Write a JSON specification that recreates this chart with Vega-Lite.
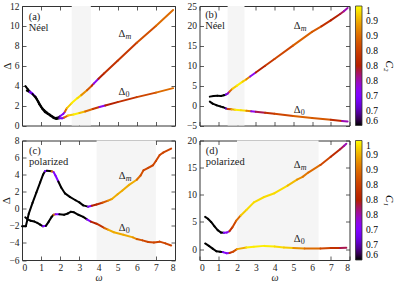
{
 "$schema": "https://vega.github.io/schema/vega-lite/v6.json",
 "padding": {"left": 0, "top": 0, "right": 0, "bottom": 0},
 "background": "white",
 "config": {
  "font": "Liberation Serif",
  "view": {"stroke": "#333", "strokeWidth": 1},
  "axis": {"domain": false, "grid": false, "tickSize": -4, "tickColor": "#333", "tickWidth": 0.8,
   "labelFont": "Liberation Serif", "labelFontSize": 9.5, "labelColor": "#222",
   "titleFont": "Liberation Serif", "titleFontWeight": "normal", "titleColor": "#222"},
  "legend": {"labelFont": "Liberation Serif", "titleFont": "Liberation Serif"},
  "text": {"font": "Liberation Serif", "color": "#222"}
 },
 "datasets": {
  "shade": [
   {"p": "a", "x1": 2.6, "x2": 3.6},
   {"p": "b", "x1": 1.5, "x2": 2.4},
   {"p": "c", "x1": 3.9, "x2": 7.0},
   {"p": "d", "x1": 2.0, "x2": 6.35}
  ],
  "labels": [
   {"p": "a", "x": 0.35, "y": 10.9, "t": "(a)"},
   {"p": "a", "x": 0.35, "y": 9.8, "t": "Néel"},
   {"p": "a", "x": 5.05, "y": 9.2, "t": "Δ", "s": "m"},
   {"p": "a", "x": 5.05, "y": 3.4, "t": "Δ", "s": "0"},
   {"p": "b", "x": 0.3, "y": 22.8, "t": "(b)"},
   {"p": "b", "x": 0.3, "y": 20.1, "t": "Néel"},
   {"p": "b", "x": 5.02, "y": 19.9, "t": "Δ", "s": "m"},
   {"p": "b", "x": 5.02, "y": -1.1, "t": "Δ", "s": "0"},
   {"p": "c", "x": 0.37, "y": 6.76, "t": "(c)"},
   {"p": "c", "x": 0.37, "y": 5.5, "t": "polarized"},
   {"p": "c", "x": 5.06, "y": 3.83, "t": "Δ", "s": "m"},
   {"p": "c", "x": 5.06, "y": -2.2, "t": "Δ", "s": "0"},
   {"p": "d", "x": 0.33, "y": 18.0, "t": "(d)"},
   {"p": "d", "x": 0.33, "y": 16.1, "t": "polarized"},
   {"p": "d", "x": 5.03, "y": 15.4, "t": "Δ", "s": "m"},
   {"p": "d", "x": 5.03, "y": 1.95, "t": "Δ", "s": "0"}
  ],
  "curves": [
   {"p":"a","k":"a1","x":0.18,"y":3.95,"c":0.6},{"p":"a","k":"a1","x":0.3,"y":3.65,"c":0.6},{"p":"a","k":"a1","x":0.42,"y":3.4,"c":0.7},{"p":"a","k":"a1","x":0.55,"y":3.2,"c":0.7},{"p":"a","k":"a1","x":0.7,"y":2.9,"c":0.6},{"p":"a","k":"a1","x":0.85,"y":2.4,"c":0.6},{"p":"a","k":"a1","x":1.0,"y":1.9,"c":0.6},{"p":"a","k":"a1","x":1.15,"y":1.55,"c":0.6},{"p":"a","k":"a1","x":1.3,"y":1.3,"c":0.6},{"p":"a","k":"a1","x":1.45,"y":1.1,"c":0.6},{"p":"a","k":"a1","x":1.6,"y":0.9,"c":0.6},{"p":"a","k":"a1","x":1.75,"y":0.75,"c":0.6},{"p":"a","k":"a1","x":1.9,"y":0.8,"c":0.62},{"p":"a","k":"a1","x":2.0,"y":0.95,"c":0.7},{"p":"a","k":"a1","x":2.15,"y":1.15,"c":0.72},{"p":"a","k":"a1","x":2.25,"y":1.4,"c":0.9},{"p":"a","k":"a1","x":2.35,"y":1.75,"c":0.97},{"p":"a","k":"a1","x":2.6,"y":2.25,"c":0.99},{"p":"a","k":"a1","x":2.9,"y":2.75,"c":0.98},{"p":"a","k":"a1","x":3.1,"y":3.05,"c":0.93},{"p":"a","k":"a1","x":3.4,"y":3.55,"c":0.88},{"p":"a","k":"a1","x":3.65,"y":4.0,"c":0.82},{"p":"a","k":"a1","x":3.75,"y":4.2,"c":0.72},{"p":"a","k":"a1","x":4.0,"y":4.7,"c":0.8},{"p":"a","k":"a1","x":4.3,"y":5.25,"c":0.83},{"p":"a","k":"a1","x":5.0,"y":6.5,"c":0.84},{"p":"a","k":"a1","x":6.0,"y":8.3,"c":0.87},{"p":"a","k":"a1","x":7.0,"y":10.0,"c":0.9},{"p":"a","k":"a1","x":7.9,"y":11.6,"c":0.9},
   {"p":"a","k":"a2","x":0.25,"y":3.5,"c":0.6},{"p":"a","k":"a2","x":0.4,"y":3.35,"c":0.68},{"p":"a","k":"a2","x":0.55,"y":3.15,"c":0.6},{"p":"a","k":"a2","x":0.75,"y":2.7,"c":0.6},{"p":"a","k":"a2","x":0.9,"y":2.15,"c":0.6},{"p":"a","k":"a2","x":1.05,"y":1.7,"c":0.6},{"p":"a","k":"a2","x":1.2,"y":1.35,"c":0.6},{"p":"a","k":"a2","x":1.35,"y":1.15,"c":0.6},{"p":"a","k":"a2","x":1.5,"y":0.95,"c":0.6},{"p":"a","k":"a2","x":1.65,"y":0.75,"c":0.6},{"p":"a","k":"a2","x":1.8,"y":0.65,"c":0.6},{"p":"a","k":"a2","x":1.95,"y":0.72,"c":0.68},{"p":"a","k":"a2","x":2.1,"y":0.72,"c":0.72},{"p":"a","k":"a2","x":2.2,"y":0.8,"c":0.9},{"p":"a","k":"a2","x":2.4,"y":1.0,"c":0.97},{"p":"a","k":"a2","x":2.7,"y":1.1,"c":0.99},{"p":"a","k":"a2","x":3.0,"y":1.25,"c":0.96},{"p":"a","k":"a2","x":3.3,"y":1.4,"c":0.9},{"p":"a","k":"a2","x":3.7,"y":1.65,"c":0.84},{"p":"a","k":"a2","x":4.05,"y":1.85,"c":0.72},{"p":"a","k":"a2","x":4.35,"y":2.0,"c":0.8},{"p":"a","k":"a2","x":5.0,"y":2.35,"c":0.83},{"p":"a","k":"a2","x":6.0,"y":2.85,"c":0.86},{"p":"a","k":"a2","x":7.0,"y":3.3,"c":0.9},{"p":"a","k":"a2","x":7.9,"y":3.75,"c":0.9},
   {"p":"b","k":"bm","x":0.55,"y":2.25,"c":0.6},{"p":"b","k":"bm","x":0.75,"y":2.4,"c":0.6},{"p":"b","k":"bm","x":0.95,"y":2.45,"c":0.6},{"p":"b","k":"bm","x":1.15,"y":2.4,"c":0.6},{"p":"b","k":"bm","x":1.3,"y":2.6,"c":0.6},{"p":"b","k":"bm","x":1.4,"y":2.75,"c":0.68},{"p":"b","k":"bm","x":1.5,"y":3.0,"c":0.75},{"p":"b","k":"bm","x":1.6,"y":3.5,"c":0.9},{"p":"b","k":"bm","x":1.75,"y":4.2,"c":0.97},{"p":"b","k":"bm","x":2.0,"y":5.0,"c":0.99},{"p":"b","k":"bm","x":2.3,"y":6.0,"c":0.97},{"p":"b","k":"bm","x":2.5,"y":6.6,"c":0.92},{"p":"b","k":"bm","x":2.7,"y":7.3,"c":0.72},{"p":"b","k":"bm","x":3.0,"y":8.3,"c":0.8},{"p":"b","k":"bm","x":3.5,"y":10.0,"c":0.84},{"p":"b","k":"bm","x":4.0,"y":11.7,"c":0.86},{"p":"b","k":"bm","x":5.0,"y":15.1,"c":0.89},{"p":"b","k":"bm","x":6.0,"y":18.5,"c":0.88},{"p":"b","k":"bm","x":6.5,"y":19.9,"c":0.83},{"p":"b","k":"bm","x":7.0,"y":21.4,"c":0.8},{"p":"b","k":"bm","x":7.5,"y":23.0,"c":0.78},{"p":"b","k":"bm","x":7.7,"y":23.7,"c":0.75},{"p":"b","k":"bm","x":7.9,"y":24.5,"c":0.75},
   {"p":"b","k":"b0","x":0.55,"y":1.0,"c":0.6},{"p":"b","k":"b0","x":0.7,"y":0.5,"c":0.6},{"p":"b","k":"b0","x":0.9,"y":0.1,"c":0.6},{"p":"b","k":"b0","x":1.1,"y":-0.2,"c":0.6},{"p":"b","k":"b0","x":1.25,"y":-0.4,"c":0.6},{"p":"b","k":"b0","x":1.4,"y":-0.7,"c":0.65},{"p":"b","k":"b0","x":1.5,"y":-0.85,"c":0.85},{"p":"b","k":"b0","x":1.7,"y":-0.95,"c":0.95},{"p":"b","k":"b0","x":1.9,"y":-1.05,"c":0.99},{"p":"b","k":"b0","x":2.2,"y":-1.15,"c":0.98},{"p":"b","k":"b0","x":2.5,"y":-1.3,"c":0.92},{"p":"b","k":"b0","x":2.75,"y":-1.45,"c":0.72},{"p":"b","k":"b0","x":3.0,"y":-1.55,"c":0.78},{"p":"b","k":"b0","x":3.5,"y":-1.8,"c":0.83},{"p":"b","k":"b0","x":4.0,"y":-2.05,"c":0.86},{"p":"b","k":"b0","x":5.0,"y":-2.6,"c":0.89},{"p":"b","k":"b0","x":6.0,"y":-3.1,"c":0.88},{"p":"b","k":"b0","x":7.0,"y":-3.55,"c":0.82},{"p":"b","k":"b0","x":7.6,"y":-3.85,"c":0.75},{"p":"b","k":"b0","x":7.9,"y":-4.0,"c":0.75},
   {"p":"c","k":"cm","x":0.0,"y":-2.05,"c":0.6},{"p":"c","k":"cm","x":0.2,"y":-2.05,"c":0.6},{"p":"c","k":"cm","x":0.35,"y":-0.6,"c":0.6},{"p":"c","k":"cm","x":0.55,"y":0.7,"c":0.6},{"p":"c","k":"cm","x":0.75,"y":1.9,"c":0.6},{"p":"c","k":"cm","x":0.95,"y":3.1,"c":0.6},{"p":"c","k":"cm","x":1.1,"y":4.0,"c":0.6},{"p":"c","k":"cm","x":1.2,"y":4.4,"c":0.7},{"p":"c","k":"cm","x":1.3,"y":4.45,"c":0.6},{"p":"c","k":"cm","x":1.55,"y":4.4,"c":0.9},{"p":"c","k":"cm","x":1.65,"y":4.3,"c":0.7},{"p":"c","k":"cm","x":1.75,"y":3.9,"c":0.7},{"p":"c","k":"cm","x":1.9,"y":3.2,"c":0.6},{"p":"c","k":"cm","x":2.05,"y":2.5,"c":0.6},{"p":"c","k":"cm","x":2.25,"y":1.8,"c":0.6},{"p":"c","k":"cm","x":2.5,"y":1.4,"c":0.6},{"p":"c","k":"cm","x":2.8,"y":1.0,"c":0.6},{"p":"c","k":"cm","x":3.0,"y":0.75,"c":0.6},{"p":"c","k":"cm","x":3.2,"y":0.4,"c":0.6},{"p":"c","k":"cm","x":3.45,"y":0.25,"c":0.7},{"p":"c","k":"cm","x":3.65,"y":0.35,"c":0.8},{"p":"c","k":"cm","x":3.9,"y":0.5,"c":0.82},{"p":"c","k":"cm","x":4.2,"y":0.7,"c":0.88},{"p":"c","k":"cm","x":4.5,"y":0.95,"c":0.93},{"p":"c","k":"cm","x":4.7,"y":1.15,"c":0.95},{"p":"c","k":"cm","x":5.0,"y":1.7,"c":0.95},{"p":"c","k":"cm","x":5.25,"y":2.15,"c":0.95},{"p":"c","k":"cm","x":5.6,"y":2.8,"c":0.95},{"p":"c","k":"cm","x":6.0,"y":3.4,"c":0.9},{"p":"c","k":"cm","x":6.2,"y":3.9,"c":0.87},{"p":"c","k":"cm","x":6.35,"y":4.5,"c":0.86},{"p":"c","k":"cm","x":6.6,"y":4.8,"c":0.86},{"p":"c","k":"cm","x":6.85,"y":5.1,"c":0.86},{"p":"c","k":"cm","x":7.0,"y":5.6,"c":0.86},{"p":"c","k":"cm","x":7.2,"y":6.3,"c":0.86},{"p":"c","k":"cm","x":7.4,"y":6.6,"c":0.86},{"p":"c","k":"cm","x":7.8,"y":7.05,"c":0.86},
   {"p":"c","k":"c0","x":0.17,"y":-1.0,"c":0.6},{"p":"c","k":"c0","x":0.3,"y":-1.25,"c":0.6},{"p":"c","k":"c0","x":0.45,"y":-1.4,"c":0.6},{"p":"c","k":"c0","x":0.65,"y":-1.5,"c":0.6},{"p":"c","k":"c0","x":0.8,"y":-1.65,"c":0.6},{"p":"c","k":"c0","x":0.95,"y":-1.85,"c":0.6},{"p":"c","k":"c0","x":1.1,"y":-2.05,"c":0.7},{"p":"c","k":"c0","x":1.25,"y":-2.0,"c":0.6},{"p":"c","k":"c0","x":1.4,"y":-1.5,"c":0.6},{"p":"c","k":"c0","x":1.55,"y":-0.95,"c":0.6},{"p":"c","k":"c0","x":1.65,"y":-0.7,"c":0.9},{"p":"c","k":"c0","x":1.75,"y":-0.65,"c":0.7},{"p":"c","k":"c0","x":1.95,"y":-0.65,"c":0.6},{"p":"c","k":"c0","x":2.2,"y":-0.7,"c":0.6},{"p":"c","k":"c0","x":2.4,"y":-0.55,"c":0.6},{"p":"c","k":"c0","x":2.55,"y":-0.35,"c":0.6},{"p":"c","k":"c0","x":2.7,"y":-0.4,"c":0.6},{"p":"c","k":"c0","x":2.95,"y":-0.7,"c":0.6},{"p":"c","k":"c0","x":3.2,"y":-0.95,"c":0.6},{"p":"c","k":"c0","x":3.4,"y":-1.25,"c":0.7},{"p":"c","k":"c0","x":3.6,"y":-1.5,"c":0.8},{"p":"c","k":"c0","x":3.9,"y":-1.75,"c":0.83},{"p":"c","k":"c0","x":4.3,"y":-2.25,"c":0.9},{"p":"c","k":"c0","x":4.5,"y":-2.45,"c":0.95},{"p":"c","k":"c0","x":4.8,"y":-2.75,"c":0.95},{"p":"c","k":"c0","x":5.3,"y":-3.05,"c":0.95},{"p":"c","k":"c0","x":5.8,"y":-3.35,"c":0.93},{"p":"c","k":"c0","x":6.0,"y":-3.55,"c":0.88},{"p":"c","k":"c0","x":6.3,"y":-3.7,"c":0.86},{"p":"c","k":"c0","x":6.6,"y":-3.9,"c":0.86},{"p":"c","k":"c0","x":6.9,"y":-3.95,"c":0.86},{"p":"c","k":"c0","x":7.2,"y":-3.85,"c":0.86},{"p":"c","k":"c0","x":7.5,"y":-4.05,"c":0.86},{"p":"c","k":"c0","x":7.8,"y":-4.3,"c":0.86},
   {"p":"d","k":"dm","x":0.3,"y":5.95,"c":0.6},{"p":"d","k":"dm","x":0.45,"y":5.6,"c":0.6},{"p":"d","k":"dm","x":0.62,"y":5.0,"c":0.6},{"p":"d","k":"dm","x":0.8,"y":4.2,"c":0.6},{"p":"d","k":"dm","x":0.97,"y":3.5,"c":0.6},{"p":"d","k":"dm","x":1.15,"y":3.05,"c":0.6},{"p":"d","k":"dm","x":1.3,"y":3.0,"c":0.7},{"p":"d","k":"dm","x":1.45,"y":3.05,"c":0.72},{"p":"d","k":"dm","x":1.6,"y":3.3,"c":0.83},{"p":"d","k":"dm","x":1.75,"y":4.0,"c":0.86},{"p":"d","k":"dm","x":1.95,"y":5.2,"c":0.9},{"p":"d","k":"dm","x":2.2,"y":6.2,"c":0.97},{"p":"d","k":"dm","x":2.5,"y":7.2,"c":0.98},{"p":"d","k":"dm","x":2.9,"y":8.6,"c":0.98},{"p":"d","k":"dm","x":3.45,"y":9.6,"c":0.98},{"p":"d","k":"dm","x":4.0,"y":10.3,"c":0.98},{"p":"d","k":"dm","x":4.7,"y":11.7,"c":0.96},{"p":"d","k":"dm","x":5.2,"y":12.8,"c":0.93},{"p":"d","k":"dm","x":5.5,"y":13.3,"c":0.91},{"p":"d","k":"dm","x":5.8,"y":14.1,"c":0.9},{"p":"d","k":"dm","x":6.45,"y":15.5,"c":0.86},{"p":"d","k":"dm","x":7.0,"y":17.0,"c":0.82},{"p":"d","k":"dm","x":7.5,"y":18.4,"c":0.78},{"p":"d","k":"dm","x":7.7,"y":19.0,"c":0.75},{"p":"d","k":"dm","x":7.83,"y":19.4,"c":0.75},
   {"p":"d","k":"d0","x":0.3,"y":1.05,"c":0.6},{"p":"d","k":"d0","x":0.5,"y":0.6,"c":0.6},{"p":"d","k":"d0","x":0.7,"y":0.1,"c":0.6},{"p":"d","k":"d0","x":0.9,"y":-0.4,"c":0.6},{"p":"d","k":"d0","x":1.1,"y":-0.5,"c":0.6},{"p":"d","k":"d0","x":1.25,"y":-0.55,"c":0.7},{"p":"d","k":"d0","x":1.45,"y":-0.75,"c":0.72},{"p":"d","k":"d0","x":1.6,"y":-0.7,"c":0.84},{"p":"d","k":"d0","x":1.8,"y":-0.45,"c":0.87},{"p":"d","k":"d0","x":2.0,"y":0.0,"c":0.95},{"p":"d","k":"d0","x":2.5,"y":0.3,"c":0.99},{"p":"d","k":"d0","x":2.9,"y":0.45,"c":0.99},{"p":"d","k":"d0","x":3.45,"y":0.6,"c":0.99},{"p":"d","k":"d0","x":4.0,"y":0.5,"c":0.98},{"p":"d","k":"d0","x":4.5,"y":0.3,"c":0.97},{"p":"d","k":"d0","x":5.0,"y":0.2,"c":0.93},{"p":"d","k":"d0","x":5.6,"y":0.12,"c":0.9},{"p":"d","k":"d0","x":6.45,"y":0.12,"c":0.86},{"p":"d","k":"d0","x":7.0,"y":0.2,"c":0.83},{"p":"d","k":"d0","x":7.5,"y":0.22,"c":0.78},{"p":"d","k":"d0","x":7.83,"y":0.25,"c":0.78}
  ]
 },
 "columns": 2,
 "bounds": "flush",
 "spacing": {"row": 14.5, "column": 24.5},
 "resolve": {"scale": {"color": "independent"}},
 "concat": [
  {
   "width": 153, "height": 119.5,
   "layer": [
    {"data": {"name": "shade"}, "transform": [{"filter": "datum.p == 'a'"}],
     "mark": {"type": "rect", "color": "#f5f5f5"},
     "encoding": {"x": {"field": "x1", "type": "quantitative", "scale": {"domain": [0, 8], "nice": false, "zero": false}, "axis": null}, "x2": {"field": "x2"}}},
    {"data": {"name": "curves"}, "transform": [{"filter": "datum.p == 'a'"}, {"window": [{"op": "lead", "field": "x", "as": "nx"}, {"op": "lead", "field": "y", "as": "ny"}], "groupby": ["k"], "sort": [{"field": "x"}]}, {"filter": "datum.nx != null"}],
     "mark": {"type": "rule", "strokeWidth": 2, "strokeCap": "round"},
     "encoding": {
      "x": {"field": "x", "type": "quantitative", "scale": {"domain": [0, 8], "nice": false, "zero": false}, "axis": {"values": [0,1,2,3,4,5,6,7,8], "labels": false, "title": null}},
      "y": {"field": "y", "type": "quantitative", "scale": {"domain": [0, 12], "nice": false, "zero": false}, "axis": {"values": [0,2,4,6,8,10,12], "title": "Δ", "titleFontSize": 11, "labelPadding": 7, "titlePadding": -3}},
      "x2": {"field": "nx"}, "y2": {"field": "ny"},
      "color": {"field": "c", "type": "quantitative", "scale": {"domain": [0.6,0.625,0.65,0.675,0.7,0.725,0.75,0.775,0.8,0.825,0.85,0.875,0.9,0.925,0.95,0.975,1], "range": ["#000000","#400062","#5a00b4","#6e02eb","#8004ff","#8e08eb","#9c0db4","#a81562","#b42000","#bf2d00","#ca3e00","#d35300","#dd6b00","#e68900","#eeab00","#f7d200","#ffff00"], "interpolate": "rgb"}, "legend": null}}},
    {"data": {"name": "labels"}, "transform": [{"filter": "datum.p == 'a'"}],
     "mark": {"type": "text", "align": "left", "baseline": "middle", "fontSize": 10.5},
     "encoding": {
      "x": {"field": "x", "type": "quantitative", "scale": {"domain": [0, 8], "nice": false, "zero": false}, "axis": {"orient": "top", "values": [0,1,2,3,4,5,6,7,8], "labels": false, "title": null}},
      "y": {"field": "y", "type": "quantitative", "scale": {"domain": [0, 12], "nice": false, "zero": false}, "axis": {"orient": "right", "values": [0,2,4,6,8,10,12], "labels": false, "title": null}},
      "text": {"field": "t"}}},
    {"data": {"name": "labels"}, "transform": [{"filter": "datum.p == 'a' && datum.s == 'm'"}],
     "mark": {"type": "text", "align": "left", "baseline": "middle", "fontSize": 8, "fontStyle": "italic", "dx": 7, "dy": 3},
     "encoding": {"x": {"field": "x", "type": "quantitative", "axis": null}, "y": {"field": "y", "type": "quantitative", "axis": null}, "text": {"field": "s"}}},
    {"data": {"name": "labels"}, "transform": [{"filter": "datum.p == 'a' && datum.s == '0'"}],
     "mark": {"type": "text", "align": "left", "baseline": "middle", "fontSize": 8, "dx": 7, "dy": 3},
     "encoding": {"x": {"field": "x", "type": "quantitative", "axis": null}, "y": {"field": "y", "type": "quantitative", "axis": null}, "text": {"field": "s"}}}
   ],
   "resolve": {"axis": {"x": "independent", "y": "independent"}}
  },
  {
   "width": 150, "height": 119.5,
   "layer": [
    {"data": {"name": "shade"}, "transform": [{"filter": "datum.p == 'b'"}],
     "mark": {"type": "rect", "color": "#f5f5f5"},
     "encoding": {"x": {"field": "x1", "type": "quantitative", "scale": {"domain": [0, 8], "nice": false, "zero": false}, "axis": null}, "x2": {"field": "x2"}}},
    {"data": {"name": "curves"}, "transform": [{"filter": "datum.p == 'b'"}, {"window": [{"op": "lead", "field": "x", "as": "nx"}, {"op": "lead", "field": "y", "as": "ny"}], "groupby": ["k"], "sort": [{"field": "x"}]}, {"filter": "datum.nx != null"}],
     "mark": {"type": "rule", "strokeWidth": 2, "strokeCap": "round"},
     "encoding": {
      "x": {"field": "x", "type": "quantitative", "scale": {"domain": [0, 8], "nice": false, "zero": false}, "axis": {"values": [0,1,2,3,4,5,6,7,8], "labels": false, "title": null}},
      "y": {"field": "y", "type": "quantitative", "scale": {"domain": [-5, 25], "nice": false, "zero": false}, "axis": {"values": [-5,0,5,10,15,20,25], "title": null, "labelPadding": 7}},
      "x2": {"field": "nx"}, "y2": {"field": "ny"},
      "color": {"field": "c", "type": "quantitative", "scale": {"domain": [0.6,0.625,0.65,0.675,0.7,0.725,0.75,0.775,0.8,0.825,0.85,0.875,0.9,0.925,0.95,0.975,1], "range": ["#000000","#400062","#5a00b4","#6e02eb","#8004ff","#8e08eb","#9c0db4","#a81562","#b42000","#bf2d00","#ca3e00","#d35300","#dd6b00","#e68900","#eeab00","#f7d200","#ffff00"], "interpolate": "rgb"},
       "legend": {"title": "C₂", "titleOrient": "right", "titleFontSize": 11, "titleFontStyle": "italic", "titleFontWeight": "normal", "titlePadding": 6, "gradientLength": 119.5, "gradientThickness": 6.5, "offset": 5, "values": [0.6,0.65,0.7,0.75,0.8,0.85,0.9,0.95,1], "format": "~g", "labelOverlap": false, "labelFontSize": 9.5, "labelOffset": 4, "labelBaseline": "middle", "gradientStrokeColor": "#333", "gradientStrokeWidth": 0.8}}}},
    {"data": {"name": "labels"}, "transform": [{"filter": "datum.p == 'b'"}],
     "mark": {"type": "text", "align": "left", "baseline": "middle", "fontSize": 10.5},
     "encoding": {
      "x": {"field": "x", "type": "quantitative", "scale": {"domain": [0, 8], "nice": false, "zero": false}, "axis": {"orient": "top", "values": [0,1,2,3,4,5,6,7,8], "labels": false, "title": null}},
      "y": {"field": "y", "type": "quantitative", "scale": {"domain": [-5, 25], "nice": false, "zero": false}, "axis": {"orient": "right", "values": [-5,0,5,10,15,20,25], "labels": false, "title": null}},
      "text": {"field": "t"}}},
    {"data": {"name": "labels"}, "transform": [{"filter": "datum.p == 'b' && datum.s == 'm'"}],
     "mark": {"type": "text", "align": "left", "baseline": "middle", "fontSize": 8, "fontStyle": "italic", "dx": 7, "dy": 3},
     "encoding": {"x": {"field": "x", "type": "quantitative", "axis": null}, "y": {"field": "y", "type": "quantitative", "axis": null}, "text": {"field": "s"}}},
    {"data": {"name": "labels"}, "transform": [{"filter": "datum.p == 'b' && datum.s == '0'"}],
     "mark": {"type": "text", "align": "left", "baseline": "middle", "fontSize": 8, "dx": 7, "dy": 3},
     "encoding": {"x": {"field": "x", "type": "quantitative", "axis": null}, "y": {"field": "y", "type": "quantitative", "axis": null}, "text": {"field": "s"}}}
   ],
   "resolve": {"axis": {"x": "independent", "y": "independent"}}
  },
  {
   "width": 153, "height": 119.5,
   "layer": [
    {"data": {"name": "shade"}, "transform": [{"filter": "datum.p == 'c'"}],
     "mark": {"type": "rect", "color": "#f5f5f5"},
     "encoding": {"x": {"field": "x1", "type": "quantitative", "scale": {"domain": [0, 8], "nice": false, "zero": false}, "axis": null}, "x2": {"field": "x2"}}},
    {"data": {"name": "curves"}, "transform": [{"filter": "datum.p == 'c'"}, {"window": [{"op": "lead", "field": "x", "as": "nx"}, {"op": "lead", "field": "y", "as": "ny"}], "groupby": ["k"], "sort": [{"field": "x"}]}, {"filter": "datum.nx != null"}],
     "mark": {"type": "rule", "strokeWidth": 2, "strokeCap": "round"},
     "encoding": {
      "x": {"field": "x", "type": "quantitative", "scale": {"domain": [0, 8], "nice": false, "zero": false}, "axis": {"values": [0,1,2,3,4,5,6,7,8], "title": "ω", "titleFontSize": 10, "titleFontStyle": "italic", "labelPadding": 6.5, "titlePadding": 0}},
      "y": {"field": "y", "type": "quantitative", "scale": {"domain": [-6, 8], "nice": false, "zero": false}, "axis": {"values": [-6,-4,-2,0,2,4,6,8], "title": "Δ", "titleFontSize": 11, "labelPadding": 7, "titlePadding": -3}},
      "x2": {"field": "nx"}, "y2": {"field": "ny"},
      "color": {"field": "c", "type": "quantitative", "scale": {"domain": [0.6,0.625,0.65,0.675,0.7,0.725,0.75,0.775,0.8,0.825,0.85,0.875,0.9,0.925,0.95,0.975,1], "range": ["#000000","#400062","#5a00b4","#6e02eb","#8004ff","#8e08eb","#9c0db4","#a81562","#b42000","#bf2d00","#ca3e00","#d35300","#dd6b00","#e68900","#eeab00","#f7d200","#ffff00"], "interpolate": "rgb"}, "legend": null}}},
    {"data": {"name": "labels"}, "transform": [{"filter": "datum.p == 'c'"}],
     "mark": {"type": "text", "align": "left", "baseline": "middle", "fontSize": 10.5},
     "encoding": {
      "x": {"field": "x", "type": "quantitative", "scale": {"domain": [0, 8], "nice": false, "zero": false}, "axis": {"orient": "top", "values": [0,1,2,3,4,5,6,7,8], "labels": false, "title": null}},
      "y": {"field": "y", "type": "quantitative", "scale": {"domain": [-6, 8], "nice": false, "zero": false}, "axis": {"orient": "right", "values": [-6,-4,-2,0,2,4,6,8], "labels": false, "title": null}},
      "text": {"field": "t"}}},
    {"data": {"name": "labels"}, "transform": [{"filter": "datum.p == 'c' && datum.s == 'm'"}],
     "mark": {"type": "text", "align": "left", "baseline": "middle", "fontSize": 8, "fontStyle": "italic", "dx": 7, "dy": 3},
     "encoding": {"x": {"field": "x", "type": "quantitative", "axis": null}, "y": {"field": "y", "type": "quantitative", "axis": null}, "text": {"field": "s"}}},
    {"data": {"name": "labels"}, "transform": [{"filter": "datum.p == 'c' && datum.s == '0'"}],
     "mark": {"type": "text", "align": "left", "baseline": "middle", "fontSize": 8, "dx": 7, "dy": 3},
     "encoding": {"x": {"field": "x", "type": "quantitative", "axis": null}, "y": {"field": "y", "type": "quantitative", "axis": null}, "text": {"field": "s"}}}
   ],
   "resolve": {"axis": {"x": "independent", "y": "independent"}}
  },
  {
   "width": 150, "height": 119.5,
   "layer": [
    {"data": {"name": "shade"}, "transform": [{"filter": "datum.p == 'd'"}],
     "mark": {"type": "rect", "color": "#f5f5f5"},
     "encoding": {"x": {"field": "x1", "type": "quantitative", "scale": {"domain": [0, 8], "nice": false, "zero": false}, "axis": null}, "x2": {"field": "x2"}}},
    {"data": {"name": "curves"}, "transform": [{"filter": "datum.p == 'd'"}, {"window": [{"op": "lead", "field": "x", "as": "nx"}, {"op": "lead", "field": "y", "as": "ny"}], "groupby": ["k"], "sort": [{"field": "x"}]}, {"filter": "datum.nx != null"}],
     "mark": {"type": "rule", "strokeWidth": 2, "strokeCap": "round"},
     "encoding": {
      "x": {"field": "x", "type": "quantitative", "scale": {"domain": [0, 8], "nice": false, "zero": false}, "axis": {"values": [0,1,2,3,4,5,6,7,8], "title": "ω", "titleFontSize": 10, "titleFontStyle": "italic", "labelPadding": 6.5, "titlePadding": 0}},
      "y": {"field": "y", "type": "quantitative", "scale": {"domain": [-2, 20], "nice": false, "zero": false}, "axis": {"values": [0,5,10,15,20], "title": null, "labelPadding": 7}},
      "x2": {"field": "nx"}, "y2": {"field": "ny"},
      "color": {"field": "c", "type": "quantitative", "scale": {"domain": [0.6,0.625,0.65,0.675,0.7,0.725,0.75,0.775,0.8,0.825,0.85,0.875,0.9,0.925,0.95,0.975,1], "range": ["#000000","#400062","#5a00b4","#6e02eb","#8004ff","#8e08eb","#9c0db4","#a81562","#b42000","#bf2d00","#ca3e00","#d35300","#dd6b00","#e68900","#eeab00","#f7d200","#ffff00"], "interpolate": "rgb"},
       "legend": {"title": "C₁", "titleOrient": "right", "titleFontSize": 11, "titleFontStyle": "italic", "titleFontWeight": "normal", "titlePadding": 6, "gradientLength": 119.5, "gradientThickness": 6.5, "offset": 5, "values": [0.6,0.65,0.7,0.75,0.8,0.85,0.9,0.95,1], "format": "~g", "labelOverlap": false, "labelFontSize": 9.5, "labelOffset": 4, "labelBaseline": "middle", "gradientStrokeColor": "#333", "gradientStrokeWidth": 0.8}}}},
    {"data": {"name": "labels"}, "transform": [{"filter": "datum.p == 'd'"}],
     "mark": {"type": "text", "align": "left", "baseline": "middle", "fontSize": 10.5},
     "encoding": {
      "x": {"field": "x", "type": "quantitative", "scale": {"domain": [0, 8], "nice": false, "zero": false}, "axis": {"orient": "top", "values": [0,1,2,3,4,5,6,7,8], "labels": false, "title": null}},
      "y": {"field": "y", "type": "quantitative", "scale": {"domain": [-2, 20], "nice": false, "zero": false}, "axis": {"orient": "right", "values": [0,5,10,15,20], "labels": false, "title": null}},
      "text": {"field": "t"}}},
    {"data": {"name": "labels"}, "transform": [{"filter": "datum.p == 'd' && datum.s == 'm'"}],
     "mark": {"type": "text", "align": "left", "baseline": "middle", "fontSize": 8, "fontStyle": "italic", "dx": 7, "dy": 3},
     "encoding": {"x": {"field": "x", "type": "quantitative", "axis": null}, "y": {"field": "y", "type": "quantitative", "axis": null}, "text": {"field": "s"}}},
    {"data": {"name": "labels"}, "transform": [{"filter": "datum.p == 'd' && datum.s == '0'"}],
     "mark": {"type": "text", "align": "left", "baseline": "middle", "fontSize": 8, "dx": 7, "dy": 3},
     "encoding": {"x": {"field": "x", "type": "quantitative", "axis": null}, "y": {"field": "y", "type": "quantitative", "axis": null}, "text": {"field": "s"}}}
   ],
   "resolve": {"axis": {"x": "independent", "y": "independent"}}
  }
 ]
}
